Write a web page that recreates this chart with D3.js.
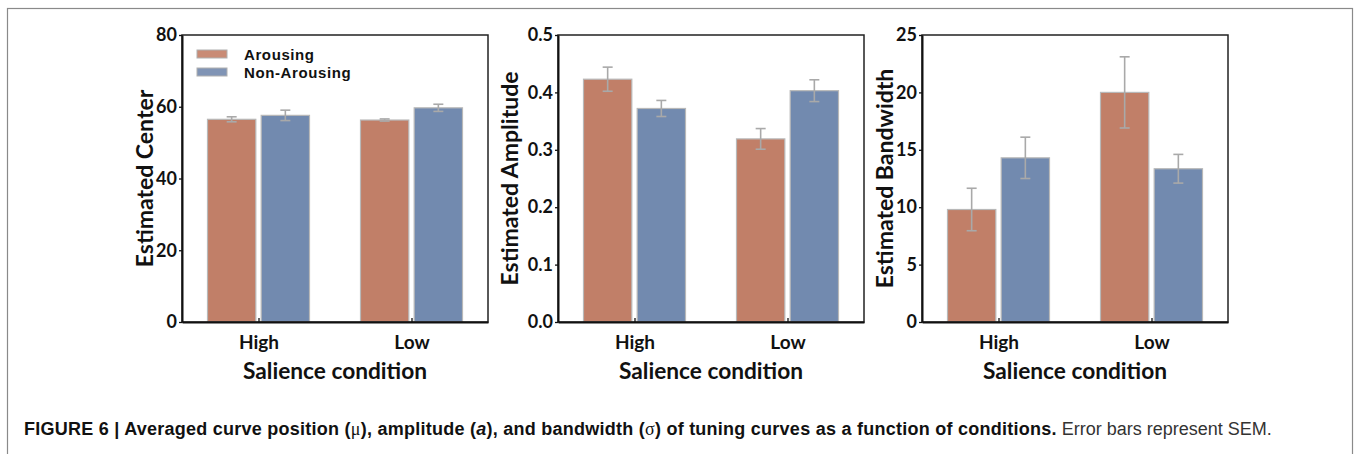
<!DOCTYPE html>
<html>
<head>
<meta charset="utf-8">
<script src="https://cdn.jsdelivr.net/npm/d3@7"></script>
<style>
  body { margin: 0; background: #fff; }
  .tick text { font-family: Lato, "Open Sans", sans-serif; font-weight: 700; fill: #111; }
</style>
</head>
<body>
<div id="chart"></div>
<script>
// values: [condition][group]
const conditions = ["High", "Low"];
const groups = ["Arousing", "Non-Arousing"];

const centerMeans = [[56.5, 57.6], [56.3, 59.7]];
const centerSem = [[0.7, 1.45], [0.3, 1.0]];
const centerTicks = [0, 20, 40, 60, 80];

const amplitudeMeans = [[0.423, 0.372], [0.319, 0.403]];
const amplitudeSem = [[0.021, 0.014], [0.018, 0.019]];
const amplitudeTicks = [0, 0.1, 0.2, 0.3, 0.4, 0.5];

const bandwidthMeans = [[9.8, 14.3], [20.0, 13.35]];
const bandwidthSem = [[1.85, 1.8], [3.1, 1.25]];
const bandwidthTicks = [0, 5, 10, 15, 20, 25];

const width = 1354;
const height = 454;
const plotW = 306;
const plotH = 287;
const plotTop = 35;

const colors = d3.scaleOrdinal().domain(groups).range(["#c17f68", "#728aaf"]);
const swatchColors = d3.scaleOrdinal().domain(groups).range(["#c98b75", "#8094b5"]);

const panels = [
    { left: 182, title: "Estimated Center", means: centerMeans, sem: centerSem, ticks: centerTicks, fmt: d3.format("d"), titleOffset: 29, legend: true },
    { left: 558, title: "Estimated Amplitude", means: amplitudeMeans, sem: amplitudeSem, ticks: amplitudeTicks, fmt: d3.format(".1f"), titleOffset: 40 },
    { left: 922, title: "Estimated Bandwidth", means: bandwidthMeans, sem: bandwidthSem, ticks: bandwidthTicks, fmt: d3.format("d"), titleOffset: 29 }
];

const svg = d3.select("#chart")
    .append("svg")
    .attr("width", width)
    .attr("height", height);

// page frame
svg.append("rect")
    .attr("x", 7.5)
    .attr("y", 8.5)
    .attr("width", 1345)
    .attr("height", 500)
    .attr("fill", "none")
    .attr("stroke", "#8a8a8a")
    .attr("stroke-width", 1.2);

const x = d3.scalePoint().domain(conditions).range([0, plotW]).padding(0.5);
const sub = d3.scaleBand().domain(groups).range([-51, 51]).paddingInner(0.1);

panels.forEach(p => {
    const g = svg.append("g").attr("transform", `translate(${p.left}, ${plotTop})`);
    const y = d3.scaleLinear().domain([0, d3.max(p.ticks)]).range([plotH, 0]);

    const rows = [];
    conditions.forEach((c, i) => {
        groups.forEach((grp, j) => {
            rows.push({ cond: c, group: grp, mean: p.means[i][j], sem: p.sem[i][j] });
        });
    });

    g.selectAll(".bar")
        .data(rows)
        .enter()
        .append("rect")
        .attr("class", "bar")
        .attr("x", d => x(d.cond) + sub(d.group))
        .attr("width", sub.bandwidth())
        .attr("y", d => y(d.mean))
        .attr("height", d => plotH - y(d.mean))
        .attr("fill", d => colors(d.group))
        .attr("stroke", "#b8b8b8")
        .attr("stroke-width", 1.2);

    // error bars
    const err = g.selectAll(".err")
        .data(rows)
        .enter()
        .append("g")
        .attr("class", "err")
        .attr("transform", d => `translate(${x(d.cond) + sub(d.group) + sub.bandwidth() / 2}, 0)`)
        .attr("stroke", "#a9a9a9")
        .attr("stroke-width", 1.6);

    err.append("line")
        .attr("y1", d => y(d.mean - d.sem))
        .attr("y2", d => y(d.mean + d.sem));
    err.append("line")
        .attr("x1", -5).attr("x2", 5)
        .attr("y1", d => y(d.mean + d.sem))
        .attr("y2", d => y(d.mean + d.sem));
    err.append("line")
        .attr("x1", -5).attr("x2", 5)
        .attr("y1", d => y(d.mean - d.sem))
        .attr("y2", d => y(d.mean - d.sem));

    // box
    g.append("rect")
        .attr("width", plotW)
        .attr("height", plotH)
        .attr("fill", "none")
        .attr("stroke", "#222")
        .attr("stroke-width", 1.5);

    const yAxis = g.append("g")
        .call(d3.axisLeft(y).tickValues(p.ticks).tickFormat(p.fmt).tickSize(3).tickSizeOuter(0).tickPadding(2));
    yAxis.select(".domain").attr("stroke", "#111").attr("stroke-width", 2);
    yAxis.selectAll(".tick line").attr("stroke", "#111").attr("stroke-width", 1.3);
    yAxis.selectAll(".tick text").style("font-size", "18px");

    const xAxis = g.append("g")
        .attr("transform", `translate(0, ${plotH})`)
        .call(d3.axisBottom(x).tickSize(-4).tickSizeOuter(0).tickPadding(14));
    xAxis.select(".domain").attr("stroke", "#111").attr("stroke-width", 2);
    xAxis.selectAll(".tick line").attr("stroke", "#111").attr("stroke-width", 1.3);
    xAxis.selectAll(".tick text").style("font-size", "19px");

    g.append("text")
        .attr("transform", "rotate(-90)")
        .attr("x", -plotH / 2)
        .attr("y", -p.titleOffset)
        .attr("text-anchor", "middle")
        .style("font-family", "Lato, sans-serif")
        .style("font-weight", 700)
        .style("font-size", "23px")
        .attr("fill", "#111")
        .text(p.title);

    g.append("text")
        .attr("x", plotW / 2)
        .attr("y", plotH + 57)
        .attr("text-anchor", "middle")
        .style("font-family", "Lato, sans-serif")
        .style("font-weight", 700)
        .style("font-size", "22.7px")
        .attr("fill", "#111")
        .text("Salience condition");

    if (p.legend) {
        const legend = g.selectAll(".legend")
            .data(groups)
            .enter()
            .append("g")
            .attr("class", "legend")
            .attr("transform", (d, i) => `translate(15, ${15 + i * 18})`);
        legend.append("rect")
            .attr("width", 30)
            .attr("height", 8)
            .attr("fill", d => swatchColors(d))
            .attr("stroke", "#b0b0b0")
            .attr("stroke-width", 1);
        legend.append("text")
            .attr("x", 47)
            .attr("y", 10)
            .style("font-family", "'Liberation Sans', Arial, sans-serif")
            .style("font-weight", 700)
            .style("font-size", "15px")
            .style("letter-spacing", "0.6px")
            .attr("fill", "#111")
            .text(d => d);
    }
});

// caption
const caption = svg.append("text")
    .attr("x", 24)
    .attr("y", 435)
    .style("font-family", "'Liberation Sans', Arial, sans-serif")
    .style("font-size", "18px");
const bold = [
    ["FIGURE 6 | Averaged curve position (", "normal"],
    ["μ", "serif"],
    ["), amplitude (", "normal"],
    ["a", "italic"],
    ["), and bandwidth (", "normal"],
    ["σ", "serif"],
    [") of tuning curves as a function of conditions.", "normal"]
];
bold.forEach(([t, kind]) => {
    const ts = caption.append("tspan")
        .style("font-weight", kind === "serif" ? 400 : 700)
        .style("letter-spacing", "0.25px")
        .attr("fill", "#111")
        .text(t);
    if (kind === "italic") ts.style("font-style", "italic");
    if (kind === "serif") ts.style("font-family", "'Liberation Serif', serif");
});
caption.append("tspan")
    .attr("fill", "#333")
    .text(" Error bars represent SEM.");
</script>
</body>
</html>
